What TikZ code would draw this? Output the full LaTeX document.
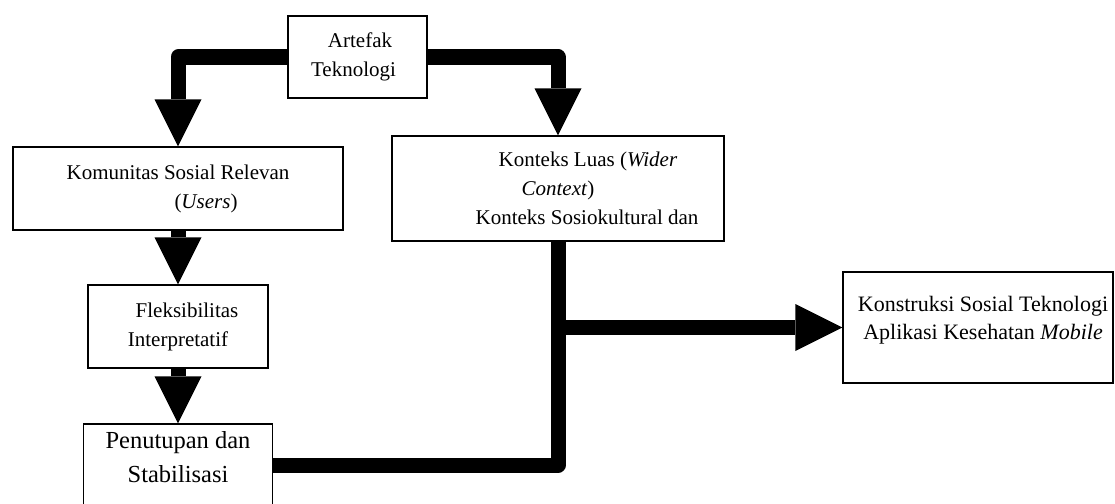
\documentclass[tikz,border=0pt]{standalone}
\usepackage{fontspec}
\setmainfont{Liberation Serif}
\usetikzlibrary{arrows.meta}
\tikzset{
  box/.style={draw=black, line width=1.1pt, inner sep=0pt, align=center,
    font=\fontsize{21}{29}\selectfont},
  shaft/.style={line width=15pt, line join=round, draw=black},
  arr/.style={shaft, -{Triangle[width=47pt,length=47pt,line width=0pt]}}
}
\begin{document}
\begin{tikzpicture}[x=1pt,y=-1pt]
\useasboundingbox (0,0) rectangle (1115,503);
\clip (0,0) rectangle (1115,503);
\fill[white] (0,0) rectangle (1115,503);
\node[box, minimum width=139pt, minimum height=82pt] (art) at (357.5,57)
  {\hspace*{5pt}Artefak\\Teknologi\hspace*{8pt}};
\node[box, minimum width=330pt, minimum height=83pt] (kom) at (178,188.5)
  {Komunitas Sosial Relevan\\\hspace*{56pt}(\textit{Users})};
\node[box, minimum width=180pt, minimum height=83pt] (fle) at (178,326.5)
  {\hspace*{18pt}Fleksibilitas\\Interpretatif};
\node[box, minimum width=189pt, minimum height=82pt,
  label={[name=pentxt, font=\fontsize{24.5}{34}\selectfont, align=center, yshift=8pt]center:{Penutupan dan\\Stabilisasi}}]
  (pen) at (178,465) {};
\node[box, minimum width=332pt, minimum height=105pt] (kon) at (558,188.5)
  {\hspace*{60pt}Konteks Luas (\textit{Wider}\\\textit{Context})\\\hspace*{58pt}Konteks Sosiokultural dan};
\node[box, minimum width=270pt, minimum height=111pt,
  label={[name=konstxt, font=\fontsize{22}{28}\selectfont, align=center, xshift=5pt, yshift=7pt]center:{Konstruksi Sosial Teknologi\\Aplikasi Kesehatan \textit{Mobile}}}]
  (kons) at (978,327.5) {};
\draw[arr] (art.west) -| (kom.north);
\draw[arr] (art.east) -| (kon.north);
\draw[arr] (kom.south) -- (fle.north);
\draw[arr] (fle.south) -- (pen.north);
\draw[shaft] (pen.east) -| (kon.south);
\draw[arr] (kon.south |- kons.west) -- (kons.west);
\end{tikzpicture}
\end{document}
